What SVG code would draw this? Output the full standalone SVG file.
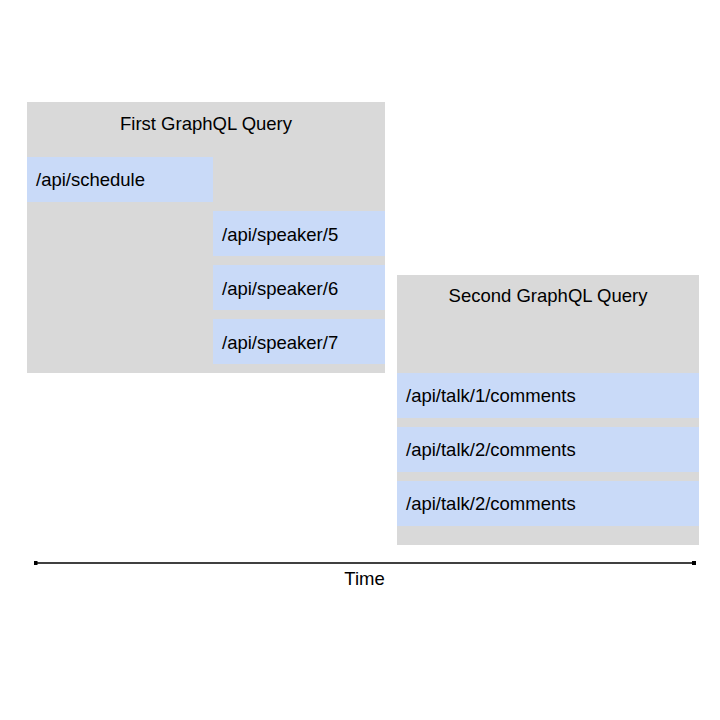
<svg xmlns="http://www.w3.org/2000/svg" width="720" height="720" viewBox="0 0 720 720">
<style>
.grp{fill:#d9d9d9}
.req{fill:#c9daf8}
text{font-family:"Liberation Sans",Arial,sans-serif;font-size:18.5px;fill:#000}
.c{text-anchor:middle}
</style>
<defs>
<marker id="sq" viewBox="0 0 4 4" refX="2" refY="2" markerWidth="4" markerHeight="4" markerUnits="userSpaceOnUse">
<rect x="0" y="0" width="4" height="4" fill="#000"/>
</marker>
</defs>
<rect width="720" height="720" fill="#fff"/>
<g id="first-query">
<rect class="grp" x="27" y="102" width="358" height="271"/>
<text class="c" x="206" y="130">First GraphQL Query</text>
</g>
<g id="schedule">
<rect class="req" x="27" y="157" width="186" height="45"/>
<text x="36" y="186">/api/schedule</text>
</g>
<g id="speaker5">
<rect class="req" x="213" y="211" width="172" height="45"/>
<text x="222" y="241">/api/speaker/5</text>
</g>
<g id="speaker6">
<rect class="req" x="213" y="265" width="172" height="45"/>
<text x="222" y="295">/api/speaker/6</text>
</g>
<g id="speaker7">
<rect class="req" x="213" y="319" width="172" height="45"/>
<text x="222" y="349">/api/speaker/7</text>
</g>
<g id="second-query">
<rect class="grp" x="397" y="275" width="302" height="270"/>
<text class="c" x="548" y="302">Second GraphQL Query</text>
</g>
<g id="talk1">
<rect class="req" x="397" y="373" width="302" height="45"/>
<text x="406" y="402">/api/talk/1/comments</text>
</g>
<g id="talk2">
<rect class="req" x="397" y="427" width="302" height="45"/>
<text x="406" y="456">/api/talk/2/comments</text>
</g>
<g id="talk3">
<rect class="req" x="397" y="481" width="302" height="45"/>
<text x="406" y="510">/api/talk/2/comments</text>
</g>
<g id="connectors">
<line x1="35.5" y1="563" x2="694" y2="563" stroke="#000" stroke-width="1.5" marker-start="url(#sq)" marker-end="url(#sq)"/>
</g>
<g id="time-label">
<text class="c" x="364.5" y="585">Time</text>
</g>
</svg>
